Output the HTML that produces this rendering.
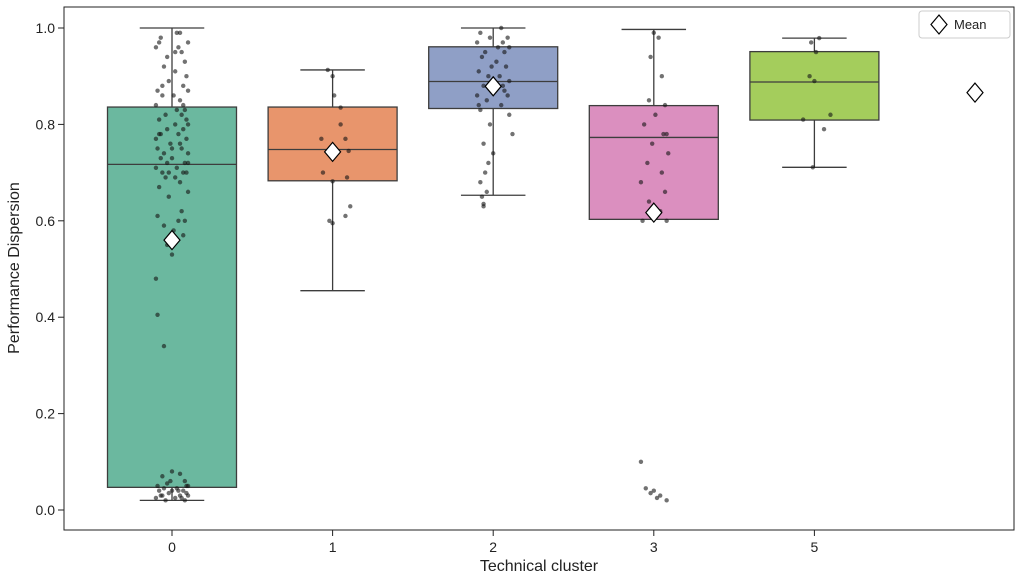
<!DOCTYPE html>
<html><head><meta charset="utf-8"><style>
body{margin:0;background:#fff;}
svg text{font-family:"Liberation Sans",sans-serif;fill:#222;}
</style></head><body>
<svg id="chart" width="1022" height="577">
<rect x="64" y="7" width="950" height="523" fill="#fff" stroke="#222" stroke-width="1"/>
<g id="grid"></g>
<g id="boxes"></g>
<g id="pts"></g>
<g id="means"></g>
<text x="539" y="571" font-size="16" text-anchor="middle">Technical cluster</text>
<text transform="translate(19,268) rotate(-90)" font-size="16" text-anchor="middle">Performance Dispersion</text>
<g>
<rect x="919" y="11" width="91" height="27" rx="3" fill="#fff" stroke="#ccc"/>
<path d="M939,15 L947,24.5 L939,34 L931,24.5 Z" fill="#fff" stroke="#000" stroke-width="1.2"/>
<text x="954" y="29" font-size="13">Mean</text>
</g>
</svg>
<script>
const categories=["0","1","2","3","5"];
const slots=[0,1,2,3,4];
const whiskLo=[0.02,0.455,0.653,0.603,0.711];
const q1=[0.047,0.683,0.833,0.603,0.809];
const med=[0.717,0.748,0.889,0.773,0.888];
const q3=[0.836,0.836,0.961,0.839,0.951];
const whiskHi=[1.0,0.913,1.0,0.997,0.979];
const meanSlots=[0,1,2,3,5];
const means=[0.56,0.743,0.879,0.617,0.866];
const colors=["#6bb89f","#e8956c","#8f9fc6","#db8fbf","#a4cd5c"];
const yTicks=[0,0.2,0.4,0.6,0.8,1.0];
const pts0=[0.99,0.98,0.97,0.99,0.96,0.95,0.94,0.93,0.92,0.91,0.9,0.97,0.96,0.89,0.88,0.87,0.86,0.87,0.86,0.85,0.84,0.83,0.83,0.82,0.82,0.81,0.8,0.8,0.79,0.79,0.78,0.78,0.77,0.77,0.76,0.76,0.75,0.75,0.74,0.74,0.73,0.73,0.72,0.72,0.71,0.71,0.7,0.7,0.7,0.69,0.69,0.68,0.67,0.66,0.65,0.62,0.61,0.6,0.6,0.59,0.58,0.57,0.55,0.53,0.48,0.405,0.34,0.08,0.075,0.07,0.06,0.055,0.05,0.05,0.045,0.045,0.04,0.04,0.04,0.035,0.035,0.03,0.03,0.03,0.025,0.025,0.025,0.02,0.02,0.03,0.04,0.05,0.06,0.95,0.88,0.84,0.81,0.78,0.75,0.72,0.7];
const jit0=[0.05,-0.07,0.1,0.03,-0.1,0.06,-0.03,0.08,-0.05,0.02,0.09,-0.08,0.04,-0.02,0.07,-0.09,0.01,0.1,-0.06,0.05,-0.1,0.03,0.08,-0.04,0.06,-0.08,0.02,0.1,-0.03,0.07,-0.07,0.04,-0.1,0.09,-0.01,0.05,-0.09,0.06,-0.05,0.1,0.0,-0.07,0.08,-0.03,0.03,-0.1,0.07,-0.06,0.09,0.02,-0.04,0.05,-0.08,0.1,-0.02,0.06,-0.09,0.04,0.08,-0.05,0.01,0.07,-0.03,0.0,-0.1,-0.09,-0.05,0.0,0.05,-0.06,0.08,-0.03,0.1,-0.09,0.03,-0.05,0.07,0.0,-0.08,0.09,-0.02,0.05,-0.07,0.1,0.02,-0.1,0.06,-0.04,0.08,-0.06,0.04,0.09,-0.01,0.02,-0.06,0.07,0.09,-0.08,0.0,0.1,-0.02];
const pts1=[0.913,0.9,0.86,0.835,0.8,0.77,0.77,0.745,0.74,0.7,0.69,0.682,0.63,0.61,0.6,0.595];
const jit1=[-0.03,0.0,0.01,0.05,0.05,-0.07,0.08,0.1,0.02,-0.06,0.09,0.0,0.11,0.08,-0.02,0.0];
const pts2=[1.0,0.99,0.98,0.98,0.97,0.97,0.96,0.96,0.95,0.95,0.94,0.93,0.92,0.91,0.9,0.9,0.89,0.88,0.88,0.87,0.86,0.86,0.85,0.84,0.83,0.82,0.8,0.78,0.76,0.74,0.72,0.7,0.68,0.66,0.65,0.635,0.63,0.92,0.87,0.84];
const jit2=[0.05,-0.08,0.09,-0.02,0.06,-0.1,0.03,0.1,-0.05,0.07,-0.07,0.02,0.08,-0.09,0.04,-0.03,0.1,-0.06,0.06,0.0,-0.1,0.09,-0.04,0.05,-0.08,0.1,-0.02,0.12,-0.06,0.0,-0.03,-0.05,-0.08,-0.04,-0.07,-0.06,-0.06,-0.01,0.07,-0.09];
const pts3=[0.99,0.98,0.94,0.9,0.85,0.84,0.82,0.8,0.78,0.78,0.76,0.74,0.72,0.7,0.68,0.66,0.64,0.62,0.6,0.6,0.1,0.045,0.04,0.035,0.03,0.025,0.02];
const jit3=[0.0,0.03,-0.02,0.05,-0.03,0.07,0.01,-0.06,0.06,0.08,-0.01,0.09,-0.04,0.05,-0.08,0.07,-0.03,0.04,-0.07,0.08,-0.08,-0.05,0.0,-0.02,0.04,0.02,0.08];
const pts5=[0.979,0.97,0.95,0.9,0.89,0.82,0.81,0.79,0.711];
const jit5=[0.03,-0.02,0.01,-0.03,0.0,0.1,-0.07,0.06,-0.01];
const ptsAll=[pts0,pts1,pts2,pts3,pts5];
const jitAll=[jit0,jit1,jit2,jit3,jit5];
const NS="http://www.w3.org/2000/svg";
function X(s){return 172+s*160.6;}
function Y(v){return 510-v*482;}
function mk(tag,at,parent){const e=document.createElementNS(NS,tag);for(const k in at)e.setAttribute(k,at[k]);document.getElementById(parent).appendChild(e);return e;}
yTicks.forEach(t=>{
  const l=mk('line',{x1:58,x2:64,y1:Y(t),y2:Y(t),stroke:'#222'},'grid');
  
  
  const tx=mk('text',{x:55,y:Y(t)+5,'font-size':14,'text-anchor':'end'},'grid');
  tx.textContent=t.toFixed(1);
  
  
});
categories.forEach((c,i)=>{
  const x=X(slots[i]);
  const l=mk('line',{x1:x,x2:x,y1:530,y2:536,stroke:'#222'},'grid');
  
  
  const tx=mk('text',{x:x,y:552,'font-size':14,'text-anchor':'middle'},'grid');
  tx.textContent=c;
  
  
  const hw=64.5;
  const g=mk('g',{},'boxes');
  
  
  const a={stroke:'#3d3d3d','stroke-width':1.3};
  const add=(tag,at)=>{const e=document.createElementNS(NS,tag);for(const k in Object.assign({},a,at))e.setAttribute(k,Object.assign({},a,at)[k]);g.appendChild(e);return e;};
  add('line',{x1:x,x2:x,y1:Y(whiskHi[i]),y2:Y(q3[i])});
  add('line',{x1:x,x2:x,y1:Y(q1[i]),y2:Y(whiskLo[i])});
  add('line',{x1:x-hw/2,x2:x+hw/2,y1:Y(whiskHi[i]),y2:Y(whiskHi[i])});
  add('line',{x1:x-hw/2,x2:x+hw/2,y1:Y(whiskLo[i]),y2:Y(whiskLo[i])});
  add('rect',{x:x-hw,y:Y(q3[i]),width:hw*2,height:Y(q1[i])-Y(q3[i]),fill:colors[i]});
  add('line',{x1:x-hw,x2:x+hw,y1:Y(med[i]),y2:Y(med[i])});
  ptsAll[i].forEach((v,j)=>{
    const p=mk('circle',{cx:X(slots[i]+jitAll[i][j]),cy:Y(v),r:2.2,fill:'rgba(20,20,20,0.6)'},'pts');
    
    
  });
});
means.forEach((m,i)=>{
  const x=X(meanSlots[i]),y=Y(m);
  const d=mk('path',{d:`M${x},${y-9.5} L${x+8},${y} L${x},${y+9.5} L${x-8},${y} Z`,fill:'#fff',stroke:'#000','stroke-width':1.2},'means');
  
  
});
</script>
</body></html>
